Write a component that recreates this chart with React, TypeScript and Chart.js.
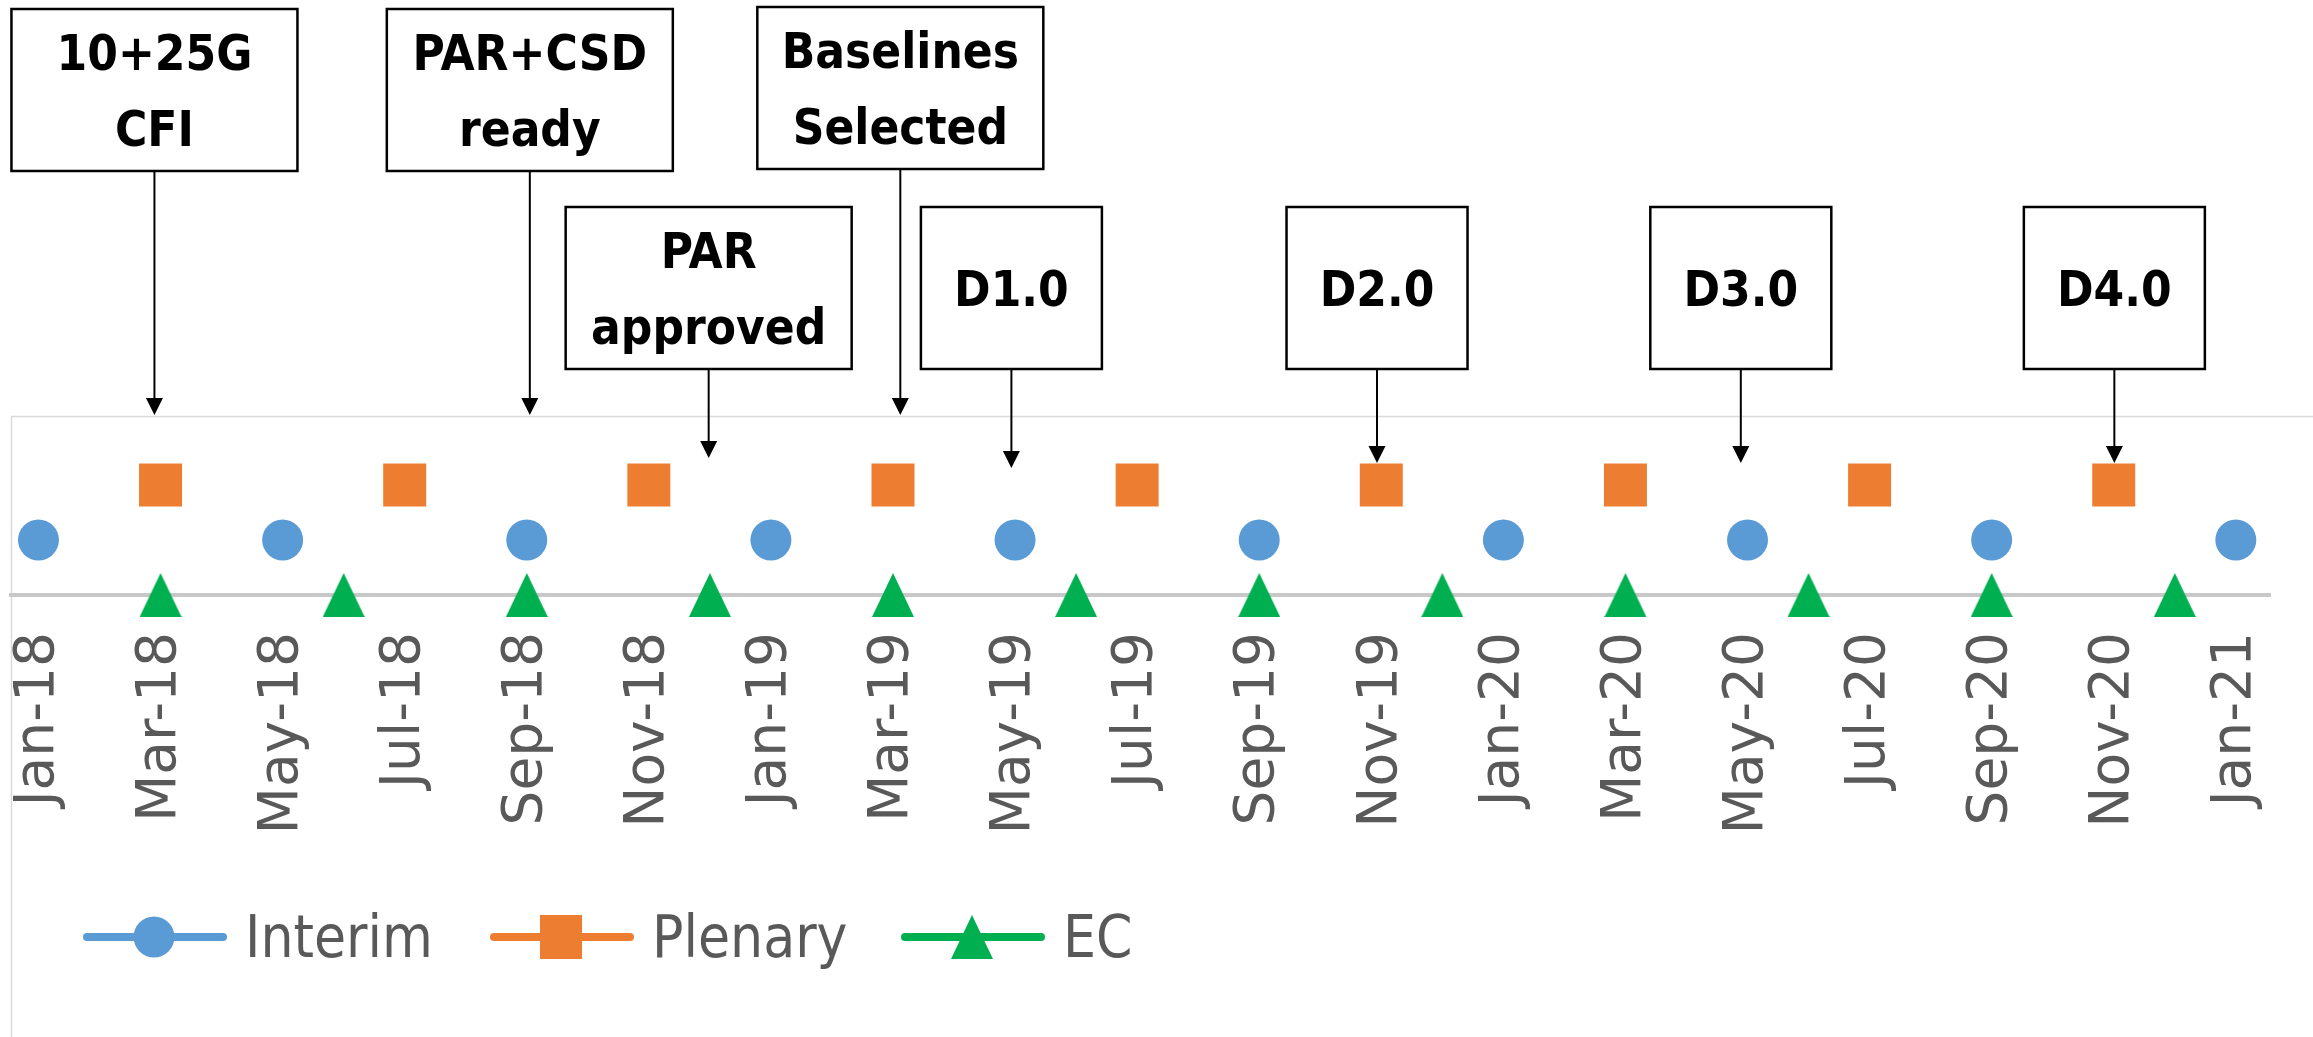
import React, { useEffect, useRef } from 'react';
import { Chart, registerables } from 'chart.js';

Chart.register(...registerables);

// ---------- data ----------
const tickMonths = [0, 2, 4, 6, 8, 10, 12, 14, 16, 18, 20, 22, 24, 26, 28, 30, 32, 34, 36];
const tickLabels = [
  'Jan-18', 'Mar-18', 'May-18', 'Jul-18', 'Sep-18', 'Nov-18',
  'Jan-19', 'Mar-19', 'May-19', 'Jul-19', 'Sep-19', 'Nov-19',
  'Jan-20', 'Mar-20', 'May-20', 'Jul-20', 'Sep-20', 'Nov-20', 'Jan-21',
];

const seriesNames = ['Interim', 'Plenary', 'EC'];

const interimMonths = [0, 4, 8, 12, 16, 20, 24, 28, 32, 36];
const interimValues = [1, 1, 1, 1, 1, 1, 1, 1, 1, 1];

const plenaryMonths = [2, 6, 10, 14, 18, 22, 26, 30, 34];
const plenaryValues = [2, 2, 2, 2, 2, 2, 2, 2, 2];

const ecMonths = [2, 5, 8, 11, 14, 17, 20, 23, 26, 29, 32, 35];
const ecValues = [0, 0, 0, 0, 0, 0, 0, 0, 0, 0, 0, 0];

const milestoneLabels = [
  ['10+25G', 'CFI'],
  ['PAR+CSD', 'ready'],
  ['Baselines', 'Selected'],
  ['PAR', 'approved'],
  ['D1.0'],
  ['D2.0'],
  ['D3.0'],
  ['D4.0'],
];
const milestoneMonths = [1.9, 8.05, 14.12, 10.98, 15.94, 21.93, 27.89, 34.01];

// ---------- layout / style ----------
const W = 2313;
const H = 1037;
const BLUE = '#5b9bd5';
const ORANGE = '#ed7d31';
const GREEN = '#00b050';
const TEXT_GRAY = '#595959';

const boxLayout = [
  { top: 9, width: 286, tip: 415 },
  { top: 9, width: 286, tip: 415 },
  { top: 7, width: 286, tip: 415 },
  { top: 207, width: 286, tip: 458 },
  { top: 207, width: 181, tip: 468 },
  { top: 207, width: 181, tip: 463 },
  { top: 207, width: 181, tip: 463 },
  { top: 207, width: 181, tip: 463 },
];
const BOX_H = 162;
const legendStarts = [83, 490, 901];
const LEGEND_Y = 937;

function makeTriangle(w: number, h: number, color: string) {
  const c = document.createElement('canvas');
  c.width = w;
  c.height = h;
  const g = c.getContext('2d')!;
  g.fillStyle = color;
  g.beginPath();
  g.moveTo(w / 2, 0);
  g.lineTo(w, h);
  g.lineTo(0, h);
  g.closePath();
  g.fill();
  return c;
}

export default function App() {
  const ref = useRef<HTMLCanvasElement | null>(null);

  useEffect(() => {
    if (!ref.current) return;
    const tri = makeTriangle(42, 44, GREEN);

    const framePlugin = {
      id: 'frame',
      beforeDraw(chart: any) {
        const ctx = chart.ctx;
        ctx.save();
        ctx.strokeStyle = '#d9d9d9';
        ctx.lineWidth = 1.5;
        ctx.beginPath();
        ctx.moveTo(11.5, H);
        ctx.lineTo(11.5, 416.5);
        ctx.lineTo(W, 416.5);
        ctx.stroke();
        ctx.restore();
      },
    };

    const milestonePlugin = {
      id: 'milestones',
      afterDraw(chart: any) {
        const ctx = chart.ctx;
        const xs = chart.scales.x;
        ctx.save();
        milestoneLabels.forEach((lines, i) => {
          const b = boxLayout[i];
          const cx = xs.getPixelForValue(milestoneMonths[i]);
          const left = cx - b.width / 2;
          ctx.fillStyle = '#ffffff';
          ctx.fillRect(left, b.top, b.width, BOX_H);
          ctx.strokeStyle = '#000000';
          ctx.lineWidth = 2.5;
          ctx.strokeRect(left, b.top, b.width, BOX_H);
          ctx.fillStyle = '#000000';
          ctx.font = 'bold 49px "DejaVu Sans Condensed", "DejaVu Sans"';
          ctx.textAlign = 'center';
          ctx.textBaseline = 'alphabetic';
          const center = b.top + BOX_H / 2;
          const n = lines.length;
          lines.forEach((t, j) => {
            const base = center + (j - (n - 1) / 2) * 76 + 18;
            ctx.fillText(t, cx, base);
          });
          // arrow
          const head = 17;
          ctx.lineWidth = 2;
          ctx.beginPath();
          ctx.moveTo(cx, b.top + BOX_H);
          ctx.lineTo(cx, b.tip - head + 1);
          ctx.stroke();
          ctx.beginPath();
          ctx.moveTo(cx - 8.5, b.tip - head);
          ctx.lineTo(cx + 8.5, b.tip - head);
          ctx.lineTo(cx, b.tip);
          ctx.closePath();
          ctx.fill();
        });
        ctx.restore();
      },
    };

    const legendPlugin = {
      id: 'customLegend',
      afterDraw(chart: any) {
        const ctx = chart.ctx;
        ctx.save();
        const colors = [BLUE, ORANGE, GREEN];
        seriesNames.forEach((name, i) => {
          const x0 = legendStarts[i];
          const col = colors[i];
          ctx.strokeStyle = col;
          ctx.lineWidth = 8;
          ctx.lineCap = 'round';
          ctx.beginPath();
          ctx.moveTo(x0 + 4, LEGEND_Y);
          ctx.lineTo(x0 + 140, LEGEND_Y);
          ctx.stroke();
          const mx = x0 + 71;
          ctx.fillStyle = col;
          if (i === 0) {
            ctx.beginPath();
            ctx.arc(mx, LEGEND_Y, 20.5, 0, Math.PI * 2);
            ctx.fill();
          } else if (i === 1) {
            ctx.fillRect(mx - 21, LEGEND_Y - 22, 42, 44);
          } else {
            ctx.drawImage(tri, mx - 21, LEGEND_Y - 22, 42, 44);
          }
          ctx.fillStyle = TEXT_GRAY;
          ctx.font = '58px "DejaVu Sans Condensed", "DejaVu Sans"';
          ctx.textAlign = 'left';
          ctx.textBaseline = 'alphabetic';
          ctx.fillText(name, x0 + 162, LEGEND_Y + 20);
        });
        ctx.restore();
      },
    };

    const chart = new Chart(ref.current, {
      type: 'line',
      data: {
        datasets: [
          {
            label: seriesNames[0],
            data: interimMonths.map((m, i) => ({ x: m, y: interimValues[i] })),
            showLine: false,
            pointStyle: 'circle',
            pointRadius: 20.5,
            pointBorderWidth: 0,
            pointBackgroundColor: BLUE,
            borderColor: BLUE,
            backgroundColor: BLUE,
            clip: false,
          },
          {
            label: seriesNames[1],
            data: plenaryMonths.map((m, i) => ({ x: m, y: plenaryValues[i] })),
            showLine: false,
            pointStyle: 'rect',
            pointRadius: 30.4,
            pointBorderWidth: 0,
            pointBackgroundColor: ORANGE,
            borderColor: ORANGE,
            backgroundColor: ORANGE,
            clip: false,
          },
          {
            label: seriesNames[2],
            data: ecMonths.map((m, i) => ({ x: m, y: ecValues[i] })),
            showLine: false,
            pointStyle: tri as any,
            pointRadius: 22,
            pointBorderWidth: 0,
            pointBackgroundColor: GREEN,
            borderColor: GREEN,
            backgroundColor: GREEN,
            clip: false,
          },
        ] as any,
      },
      options: {
        responsive: false,
        animation: false,
        events: [],
        layout: { autoPadding: false, padding: { top: 430, left: 11, right: 43, bottom: 0 } },
        plugins: {
          legend: { display: false },
          tooltip: { enabled: false },
        },
        scales: {
          x: {
            type: 'linear',
            min: -0.45,
            max: 36.56,
            grid: { display: false, drawTicks: false },
            border: { display: true, color: '#c8c8c8', width: 4 },
            ticks: {
              autoSkip: false,
              minRotation: 90,
              maxRotation: 90,
              padding: 37,
              color: TEXT_GRAY,
              font: { family: '"DejaVu Sans"', size: 55 },
              callback: (v: any) => {
                const i = tickMonths.indexOf(Number(v));
                return i >= 0 ? tickLabels[i] : '';
              },
            },
            afterBuildTicks: (s: any) => {
              s.ticks = tickMonths.map((v) => ({ value: v }));
            },
            afterFit: (s: any) => {
              s.height = 442;
              s.paddingLeft = 0;
              s.paddingRight = 0;
            },
          },
          y: {
            type: 'linear',
            min: 0,
            max: 3,
            display: false,
          },
        },
      } as any,
      plugins: [framePlugin, milestonePlugin, legendPlugin],
    });

    return () => chart.destroy();
  }, []);

  return (
    <div style={{ position: 'absolute', left: 0, top: 0, width: W, height: H, background: '#ffffff' }}>
      <canvas ref={ref} width={W} height={H} style={{ display: 'block' }} />
    </div>
  );
}
